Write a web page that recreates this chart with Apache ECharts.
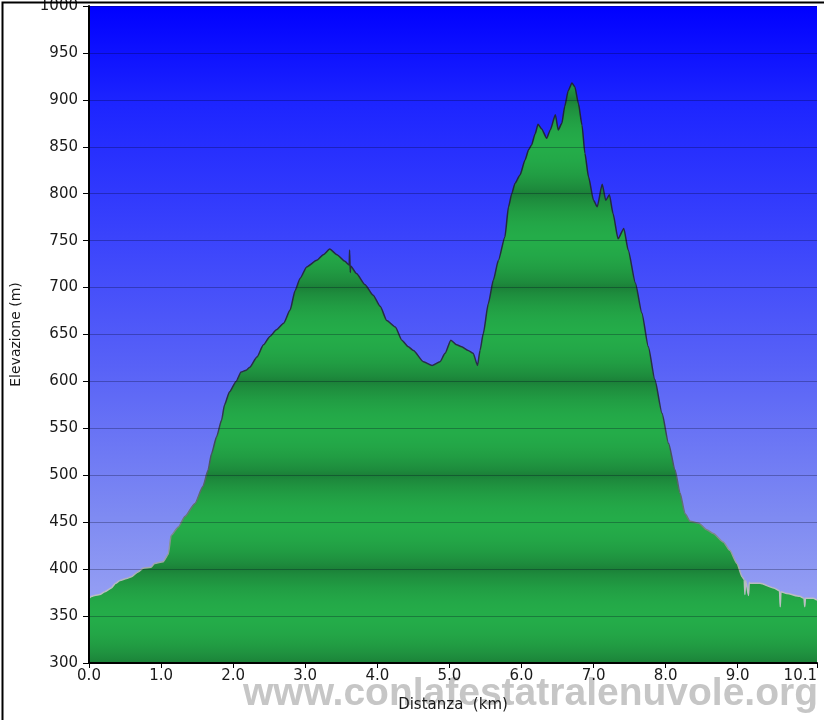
<!DOCTYPE html>
<html><head><meta charset="utf-8">
<script src="https://cdn.jsdelivr.net/npm/echarts@6/dist/echarts.min.js"></script>
<style>html,body{margin:0;padding:0;background:#fff}#c{width:824px;height:720px}</style>
</head><body><div id="c"></div>
<script>
// ---- data ----
const distanceKm = [0.00,0.04,0.08,0.15,0.22,0.31,0.37,0.43,0.52,0.59,0.68,0.75,0.86,0.91,1.03,1.10,1.14,1.24,1.33,1.47,1.58,1.65,1.70,1.77,1.84,1.88,1.95,2.04,2.11,2.18,2.23,2.33,2.42,2.51,2.60,2.70,2.79,2.86,2.93,3.02,3.16,3.25,3.34,3.44,3.55,3.61,3.615,3.625,3.63,3.71,3.83,3.94,4.04,4.13,4.25,4.34,4.43,4.50,4.64,4.76,4.87,4.94,5.02,5.10,5.17,5.26,5.33,5.39,5.425,5.47,5.54,5.61,5.68,5.77,5.82,5.865,5.91,5.98,6.05,6.10,6.14,6.19,6.23,6.28,6.35,6.40,6.47,6.51,6.56,6.60,6.65,6.70,6.74,6.79,6.84,6.88,6.93,7.00,7.05,7.12,7.17,7.22,7.27,7.34,7.42,7.48,7.58,7.67,7.76,7.85,7.95,8.04,8.13,8.20,8.27,8.34,8.46,8.57,8.66,8.80,8.89,8.99,9.06,9.09,9.10,9.11,9.15,9.16,9.17,9.31,9.50,9.58,9.59,9.60,9.68,9.86,9.92,9.93,9.94,10.05,10.10];
const elevationM = [369,371,372,373,376,380,385,388,390,392,397,401,402,406,408,416,436,445,456,470,488,505,523,541,559,575,589,600,610,612,615,626,639,648,655,662,676,697,710,722,729,735,741,735,728,724,740,716,723,715,703,692,680,665,658,644,637,633,621,617,621,630,644,639,637,633,630,617,633,651,683,708,729,754,786,800,811,820,836,847,852,864,874,869,859,868,884,868,875,893,910,918,914,896,873,843,818,793,786,810,793,799,779,752,763,740,705,673,637,602,566,534,506,481,459,451,449,442,438,429,420,406,392,389,373,388,372,386,385,385,380,377,360,376,374,371,369,360,369,369,367];
const xTickValues = [0,1,2,3,4,5,6,7,8,9,10.1];
const xMax = 10.1;
const yMin = 300, yMax = 1000, yStep = 50;
const xAxisTitle = 'Distanza  (km)';
const yAxisTitle = 'Elevazione (m)';
const watermarkText = 'www.conlafestatralenuvole.org';

// ---- layout / style ----
const G = {left: 89, top: 6, width: 728, height: 657};
const FONT = '"DejaVu Sans", Verdana, sans-serif';

function hex(c){return [parseInt(c.slice(1,3),16),parseInt(c.slice(3,5),16),parseInt(c.slice(5,7),16)];}
function mix(a,b,t){const A=hex(a),B=hex(b);return 'rgb('+A.map((v,i)=>Math.round(v+(B[i]-v)*t)).join(',')+')';}

// banded green fill (dark on every 100 m line, light between)
const DARK = '#1b8038', LIGHT = '#24ac49';
const bandStops = [];
const SUB = 10, nSteps = (yMax - yMin) / yStep;
for (let i = 0; i <= nSteps * SUB; i++) {
  const v = yMax - i * yStep / SUB;
  const phase = ((v % 100) + 100) % 100 / 100;
  const b = Math.pow(Math.sin(Math.PI * phase), 0.8);
  bandStops.push({offset: i / (nSteps * SUB), color: mix(DARK, LIGHT, b)});
}
const areaFill = new echarts.graphic.LinearGradient(0, G.top, 0, G.top + G.height, bandStops, true);
const lineColor = new echarts.graphic.LinearGradient(0, G.top, 0, G.top + G.height, [
  {offset: 0, color: '#1c2038'}, {offset: 0.6, color: '#2a3048'},
  {offset: 0.78, color: '#6a7a78'}, {offset: 0.88, color: '#b8bcc0'}, {offset: 1, color: '#c8c8cc'}
], true);

const seriesData = distanceKm.map((d, i) => [d, elevationM[i]]);

const chart = echarts.init(document.getElementById('c'), null, {renderer: 'canvas'});
chart.setOption({
  animation: false,
  backgroundColor: '#ffffff',
  grid: {
    left: G.left, top: G.top, width: G.width, height: G.height,
    containLabel: false, outerBoundsMode: 'none',
    show: true, borderWidth: 0,
    backgroundColor: {type: 'linear', x: 0, y: 0, x2: 0, y2: 1, colorStops: [
      {offset: 0, color: '#0000ff'}, {offset: 0.15, color: '#1d25ff'},
      {offset: 0.35, color: '#3a43fc'}, {offset: 0.55, color: '#5862f7'},
      {offset: 0.78, color: '#7f8bf2'}, {offset: 1, color: '#a6aef4'}
    ]}
  },
  xAxis: {
    type: 'value', min: 0, max: xMax, z: 5,
    name: xAxisTitle, nameLocation: 'middle', nameGap: 35,
    nameTextStyle: {fontFamily: FONT, fontSize: 15, color: '#1a1a1a'},
    axisLine: {show: true, onZero: false, lineStyle: {color: '#000', width: 2}},
    axisTick: {show: true, customValues: xTickValues, length: 5, lineStyle: {color: '#000', width: 1}},
    axisLabel: {customValues: xTickValues, formatter: v => v.toFixed(1), margin: 6,
      fontFamily: FONT, fontSize: 15, color: '#1a1a1a', alignMaxLabel: 'right'},
    splitLine: {show: false}
  },
  yAxis: {
    type: 'value', min: yMin, max: yMax, interval: yStep, z: 3,
    name: yAxisTitle, nameLocation: 'middle', nameGap: 66,
    nameTextStyle: {fontFamily: FONT, fontSize: 14, color: '#1a1a1a'},
    axisLine: {show: true, lineStyle: {color: '#000', width: 2}},
    axisTick: {show: true, length: 6, lineStyle: {color: '#000', width: 1}},
    axisLabel: {margin: 11, fontFamily: FONT, fontSize: 15, color: '#1a1a1a', formatter: v => String(v)},
    splitLine: {show: true, lineStyle: {color: 'rgba(0,0,30,0.28)', width: 1}}
  },
  series: [{
    type: 'line', data: seriesData, showSymbol: false, z: 2,
    smooth: 0.2, smoothMonotone: 'x',
    lineStyle: {color: lineColor, width: 1.5},
    areaStyle: {color: areaFill, opacity: 1, origin: 'start'}
  }],
  graphic: [
    {type: 'text', left: 243, top: 675, z: 1, silent: true,
     style: {text: watermarkText, font: 'bold 39px "Liberation Sans", Arial, sans-serif', fill: '#c6c6c6'}},
    {type: 'rect', left: 0, top: 0, z: 10, silent: true,
     shape: {x: 0, y: 0, width: 824, height: 720},
     style: {fill: 'none', stroke: '#000', lineWidth: 2}}
  ]
});
</script></body></html>
